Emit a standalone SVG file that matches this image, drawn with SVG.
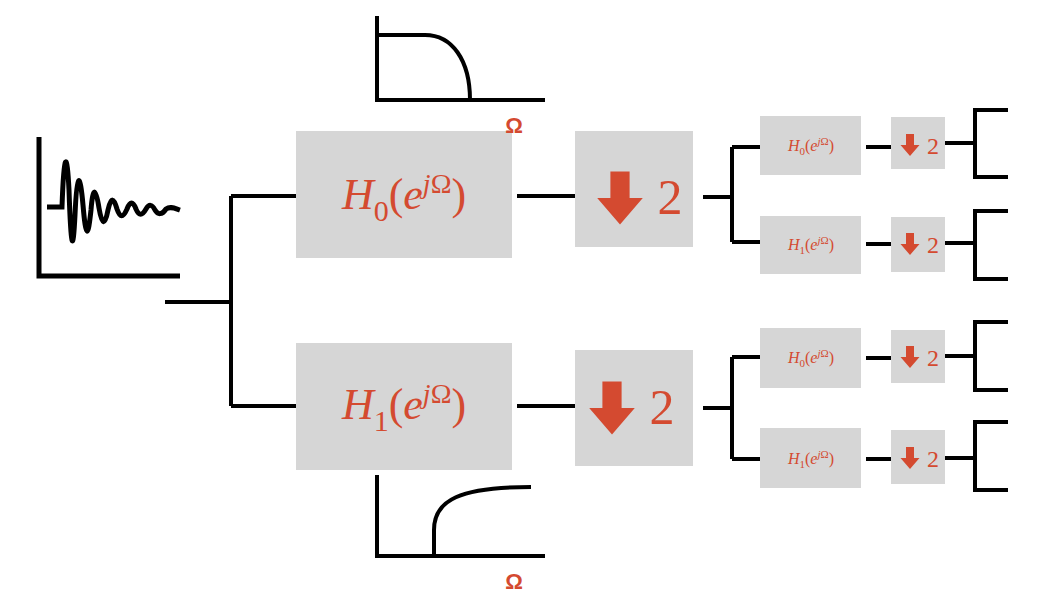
<svg xmlns="http://www.w3.org/2000/svg" width="1044" height="616" viewBox="0 0 1044 616">
<style>
.ln{stroke:#000;stroke-width:4;fill:none}
.bx{fill:#d6d6d6}
.t{font-family:"Liberation Serif",serif;fill:#d44a30}
.ar{fill:#d44a30}
.om{font-family:"Liberation Sans",sans-serif;font-weight:bold;fill:#d44a30;font-size:22px}
</style>
<defs>
<path id="arr" d="M-8,-22 H8 V0 H19 L0,22 L-19,0 H-8 Z"/>
</defs>
<rect width="1044" height="616" fill="#fff"/>
<g id="connectors" class="ln">
<path d="M165,302 H231 M231,196 V406 M231,196 H297 M231,406 H297"/>
<path d="M517,196 H575 M517,406 H575"/>
<path d="M703,197 H732 M732,147 V242 M732,147 H760 M732,242 H760"/>
<path d="M703,408 H732 M732,357 V459 M732,357 H760 M732,459 H760"/>
<path d="M866,147 H891 M866,244 H891 M866,358 H891 M866,459 H891"/>
<path d="M945,143 H975 M945,243 H975 M945,356 H975 M945,458 H975"/>
<path d="M1008,110 H975 V177 H1008 M1008,211 H975 V279 H1008 M1008,322 H975 V390 H1008 M1008,422 H975 V490 H1008"/>
</g>
<g id="signal">
<path d="M39,137 V276 H180" stroke="#000" stroke-width="5" fill="none"/>
<path d="M47,207 H62 C64,150 67,150 69,190 C71,250 73,255 75,215 C77,170 80,172 83,205 C86,240 88,238 91,210 C93,185 96,188 99,208 C102,226 105,226 108,210 C111,196 114,198 117,209 C120,218 123,218 127,209 C130,201 133,201 136,209 C139,216 142,216 146,209 C149,204 152,204 155,210 C158,215 162,215 166,209 C170,206 174,208 180,210" stroke="#000" stroke-width="5" fill="none"/>
</g>
<g id="H0-big"><rect class="bx" x="296" y="131" width="216" height="127"/>
<text class="t" x="404" y="209" text-anchor="middle" font-size="44"><tspan font-style="italic">H</tspan><tspan font-size="30" dy="12">0</tspan><tspan dy="-12">(</tspan><tspan font-style="italic">e</tspan><tspan font-style="italic" font-size="28" dy="-16">j</tspan><tspan font-size="28">Ω</tspan><tspan dy="16">)</tspan></text></g>
<g id="H1-big"><rect class="bx" x="296" y="343" width="216" height="127"/>
<text class="t" x="404" y="419" text-anchor="middle" font-size="44"><tspan font-style="italic">H</tspan><tspan font-size="30" dy="12">1</tspan><tspan dy="-12">(</tspan><tspan font-style="italic">e</tspan><tspan font-style="italic" font-size="28" dy="-16">j</tspan><tspan font-size="28">Ω</tspan><tspan dy="16">)</tspan></text></g>
<g id="freq-top">
<path d="M377,16 V100 H545" class="ln"/>
<path d="M377,35 H425 C452,35 470,60 470,100" class="ln"/>
<text x="514" y="133" text-anchor="middle" class="om">Ω</text>
</g>
<g id="freq-bottom">
<path d="M377,475 V556 H545" class="ln"/>
<path d="M434,556 V530 C434,500 460,487 531,487" class="ln"/>
<text x="514" y="589" text-anchor="middle" class="om">Ω</text>
</g>
<g id="down-top"><rect class="bx" x="575" y="131" width="118" height="116"/>
<use href="#arr" class="ar" transform="translate(620,198) scale(1.2)"/>
<text class="t" x="670" y="214" text-anchor="middle" font-size="50">2</text></g>
<g id="down-bottom"><rect class="bx" x="575" y="350" width="118" height="116"/>
<use href="#arr" class="ar" transform="translate(612,408) scale(1.2)"/>
<text class="t" x="662" y="424" text-anchor="middle" font-size="50">2</text></g>
<g id="h0-a"><rect class="bx" x="760" y="116" width="101" height="59"/>
<text class="t" x="811" y="151" text-anchor="middle" font-size="16"><tspan font-style="italic">H</tspan><tspan font-size="11" dy="4">0</tspan><tspan dy="-4">(</tspan><tspan font-style="italic">e</tspan><tspan font-style="italic" font-size="11" dy="-6">j</tspan><tspan font-size="11">Ω</tspan><tspan dy="6">)</tspan></text></g>
<g id="h1-a"><rect class="bx" x="760" y="216" width="101" height="58"/>
<text class="t" x="811" y="250" text-anchor="middle" font-size="16"><tspan font-style="italic">H</tspan><tspan font-size="11" dy="4">1</tspan><tspan dy="-4">(</tspan><tspan font-style="italic">e</tspan><tspan font-style="italic" font-size="11" dy="-6">j</tspan><tspan font-size="11">Ω</tspan><tspan dy="6">)</tspan></text></g>
<g id="h0-b"><rect class="bx" x="760" y="328" width="101" height="60"/>
<text class="t" x="811" y="363" text-anchor="middle" font-size="16"><tspan font-style="italic">H</tspan><tspan font-size="11" dy="4">0</tspan><tspan dy="-4">(</tspan><tspan font-style="italic">e</tspan><tspan font-style="italic" font-size="11" dy="-6">j</tspan><tspan font-size="11">Ω</tspan><tspan dy="6">)</tspan></text></g>
<g id="h1-b"><rect class="bx" x="760" y="428" width="101" height="60"/>
<text class="t" x="811" y="464" text-anchor="middle" font-size="16"><tspan font-style="italic">H</tspan><tspan font-size="11" dy="4">1</tspan><tspan dy="-4">(</tspan><tspan font-style="italic">e</tspan><tspan font-style="italic" font-size="11" dy="-6">j</tspan><tspan font-size="11">Ω</tspan><tspan dy="6">)</tspan></text></g>
<g id="d-a"><rect class="bx" x="891" y="117" width="54" height="52"/>
<use href="#arr" class="ar" transform="translate(910,145) scale(0.5)"/>
<text class="t" x="933" y="154" text-anchor="middle" font-size="24">2</text></g>
<g id="d-b"><rect class="bx" x="891" y="217" width="54" height="55"/>
<use href="#arr" class="ar" transform="translate(910,244) scale(0.5)"/>
<text class="t" x="933" y="253" text-anchor="middle" font-size="24">2</text></g>
<g id="d-c"><rect class="bx" x="891" y="330" width="54" height="53"/>
<use href="#arr" class="ar" transform="translate(910,357) scale(0.5)"/>
<text class="t" x="933" y="366" text-anchor="middle" font-size="24">2</text></g>
<g id="d-d"><rect class="bx" x="891" y="430" width="54" height="54"/>
<use href="#arr" class="ar" transform="translate(910,458) scale(0.5)"/>
<text class="t" x="933" y="467" text-anchor="middle" font-size="24">2</text></g>
</svg>
